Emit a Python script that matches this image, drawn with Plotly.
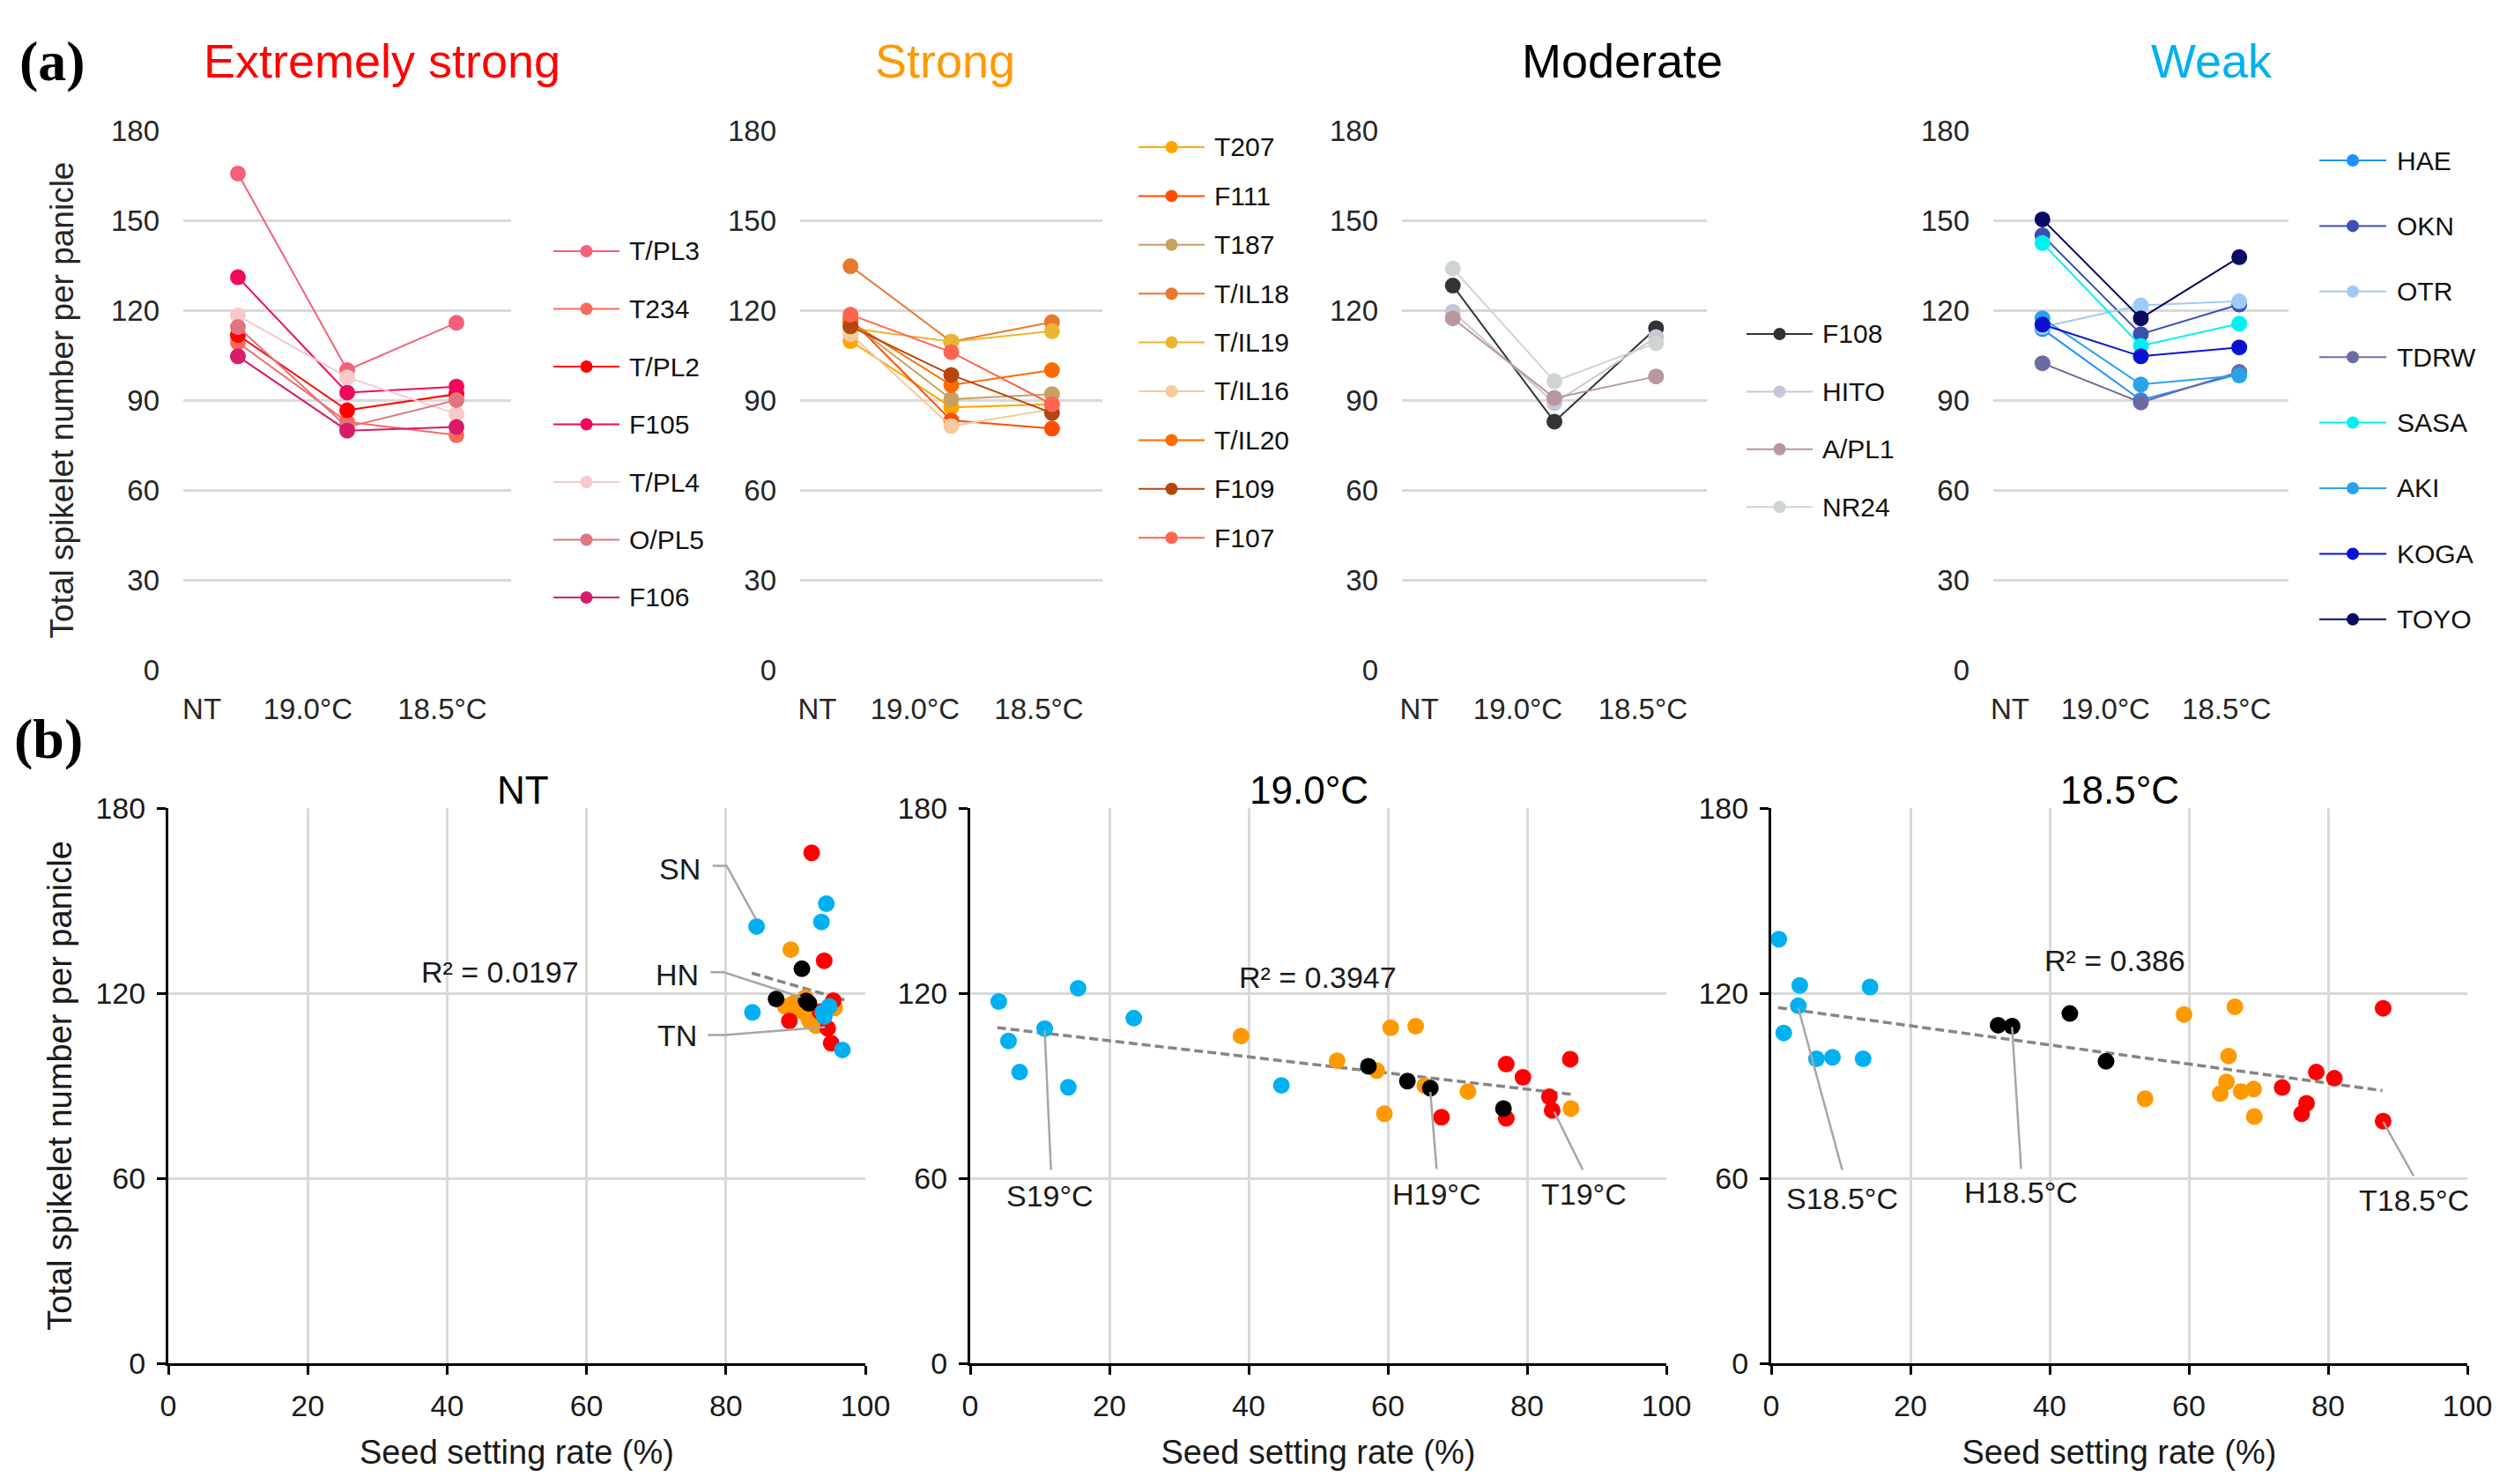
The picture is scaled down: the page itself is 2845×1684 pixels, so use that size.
import plotly.graph_objects as go

W, H = 2845, 1684          # browser window
PAD = 8                    # default body margin of the page
FONT = "Liberation Sans, Arial, sans-serif"

conditions = ["NT", "19.0°C", "18.5°C"]

# (a) total spikelet number per panicle at NT / 19.0°C / 18.5°C
ext_names = ["T/PL3", "T234", "T/PL2", "F105", "T/PL4", "O/PL5", "F106"]
ext_values = [
    [165.6, 100.0, 115.8],
    [109.2, 82.7, 78.3],
    [111.7, 86.6, 92.0],
    [131.0, 92.5, 94.5],
    [118.2, 97.6, 85.4],
    [114.4, 81.0, 90.0],
    [104.6, 79.8, 81.0],
]
str_names = ["T207", "F111", "T187", "T/IL18", "T/IL19", "T/IL16", "T/IL20", "F109", "F107"]
str_values = [
    [109.7, 87.6, 88.6],
    [117.0, 83.2, 80.5],
    [116.0, 90.3, 92.0],
    [134.7, 109.5, 116.0],
    [114.0, 109.5, 113.0],
    [112.0, 81.3, 87.0],
    [116.0, 95.0, 100.0],
    [114.6, 98.4, 85.7],
    [118.5, 106.0, 88.6],
]
mod_names = ["F108", "HITO", "A/PL1", "NR24"]
mod_values = [
    [128.2, 82.8, 114.0],
    [119.5, 89.0, 111.0],
    [117.3, 90.7, 97.9],
    [133.9, 96.3, 109.0],
]
weak_names = ["HAE", "OKN", "OTR", "TDRW", "SASA", "AKI", "KOGA", "TOYO"]
weak_values = [
    [113.7, 90.0, 98.7],
    [145.0, 112.0, 121.9],
    [114.4, 121.6, 123.0],
    [102.3, 89.2, 99.4],
    [142.4, 108.1, 115.5],
    [117.3, 95.2, 98.2],
    [115.2, 104.6, 107.6],
    [150.3, 117.3, 137.7],
]

# (b) seed setting rate (%) vs total spikelet number, per group
nt_red_x = [92.3, 94.1, 95.4, 89.1, 94.6, 95.1, 93.5]
nt_red_y = [165.5, 130.5, 117.6, 111.0, 108.6, 103.8, 114.0]
nt_orange_x = [89.3, 91.4, 88.5, 89.7, 91.6, 92.0, 92.9, 95.6, 90.5]
nt_orange_y = [134.1, 118.6, 115.7, 116.7, 112.9, 111.0, 109.5, 115.2, 114.5]
nt_black_x = [90.9, 87.2, 91.9, 91.5]
nt_black_y = [127.9, 118.1, 116.7, 117.5]
nt_blue_x = [94.4, 93.7, 84.4, 83.8, 93.9, 94.8, 94.1, 96.7]
nt_blue_y = [149.0, 143.1, 141.6, 113.8, 113.8, 115.7, 112.4, 101.6]
nt_trend_x = [83.7, 97.0]
nt_trend_y = [126.5, 117.8]

t19_red_x = [77.0, 86.2, 79.4, 83.2, 83.6, 77.0, 67.7]
t19_red_y = [97.0, 98.6, 92.7, 86.4, 82.0, 79.4, 79.8]
t19_orange_x = [38.9, 60.4, 64.0, 52.7, 58.4, 65.3, 71.5, 59.5, 86.3]
t19_orange_y = [106.1, 108.8, 109.3, 98.1, 94.9, 90.0, 88.1, 80.9, 82.6]
t19_black_x = [57.2, 62.8, 66.1, 76.6]
t19_black_y = [96.3, 91.5, 89.2, 82.6]
t19_blue_x = [4.1, 15.5, 23.5, 10.7, 5.5, 7.1, 14.1, 44.7]
t19_blue_y = [117.3, 121.6, 111.9, 108.5, 104.5, 94.4, 89.5, 90.1]
t19_trend_x = [3.9, 86.7]
t19_trend_y = [108.8, 87.1]

t185_red_x = [87.9, 78.3, 80.9, 73.4, 76.9, 76.2, 87.9]
t185_red_y = [115.1, 94.4, 92.4, 89.4, 84.3, 80.9, 78.5]
t185_orange_x = [59.3, 66.6, 65.7, 65.4, 64.5, 67.5, 69.3, 53.7, 69.4]
t185_orange_y = [113.1, 115.6, 99.6, 91.2, 87.4, 88.1, 88.9, 85.8, 80.0]
t185_black_x = [32.6, 34.6, 42.9, 48.1]
t185_black_y = [109.6, 109.3, 113.4, 97.9]
t185_blue_x = [1.1, 4.1, 14.2, 3.9, 1.8, 6.5, 8.8, 13.2]
t185_blue_y = [137.5, 122.5, 122.0, 115.9, 107.1, 98.7, 99.2, 98.7]
t185_trend_x = [1.0, 87.8]
t185_trend_y = [115.3, 88.4]

r2_labels = ["R² = 0.0197", "R² = 0.3947", "R² = 0.386"]

# colours
ext_colors = ["#F4607A", "#F86A5E", "#FF0000", "#F2075C", "#F9C8C8", "#E07480", "#D81B6A"]
str_colors = ["#FFA500", "#FF4D00", "#C9A063", "#E8792A", "#EBB532", "#F5CA9E", "#FF6A00", "#B5460F", "#FF6452"]
mod_colors = ["#333333", "#C9C5D9", "#B8979F", "#CDD5D3"]
weak_colors = ["#1E8FFF", "#3A50B2", "#9FCBF8", "#6B6BA3", "#00F0F0", "#2AA2EA", "#0A12D2", "#0B0B62"]
grp_colors = {"orange": "#FF9900", "red": "#FF0000", "black": "#000000", "blue": "#00B0F0"}

FW, FH = W - 2 * PAD, H - 2 * PAD


def fx(p):
    # window pixel -> paper fraction
    return (p - PAD) / FW


def fy(p):
    return 1 - (p - PAD) / FH


fig = go.Figure()
shapes = []
annotations = []

# ---------- (a) line panels ----------
top_panels = [
    # names, values, colors, x-domain px, title, title colour, title x, legend (line x0, x1, text x, row y0, step)
    (ext_names, ext_values, ext_colors, (208, 580), "Extremely strong", "#FF0000", 433, (628, 703, 712, 285, 65.5)),
    (str_names, str_values, str_colors, (908, 1251), "Strong", "#FF9900", 1072, (1292, 1367, 1376, 167, 55.4)),
    (mod_names, mod_values, mod_colors, (1591, 1937), "Moderate", "#000000", 1841, (1982, 2057, 2066, 379, 65.4)),
    (weak_names, weak_values, weak_colors, (2262, 2597), "Weak", "#00B0F0", 2510, (2632, 2708, 2718, 182, 74.4)),
]
top_y = (148, 760)
cat_pos = list(range(len(conditions)))
label_pos = [-0.33, 0.64, 1.87]   # Excel put the category labels a bit off-centre

for i, (names, values, colors, xd, title, tcol, tx, leg) in enumerate(top_panels):
    n = i + 1
    xa, ya = "x%d" % n, "y%d" % n
    for name, vals, col in zip(names, values, colors):
        fig.add_trace(go.Scatter(
            x=cat_pos, y=vals, mode="lines+markers", name=name,
            xaxis=xa, yaxis=ya, showlegend=False,
            line=dict(color=col, width=2),
            marker=dict(color=col, size=18),
        ))
    fig.update_layout(**{
        "xaxis%d" % n: dict(
            domain=[fx(xd[0]), fx(xd[1])], anchor=ya, automargin=False,
            range=[-0.5, 2.5], showgrid=False, showline=False, zeroline=False,
            tickmode="array", tickvals=label_pos, ticktext=conditions,
            ticks="", tickfont=dict(size=33, color="#262626"), ticklabelstandoff=22,
        ),
        "yaxis%d" % n: dict(
            domain=[fy(top_y[1]), fy(top_y[0])], anchor=xa, automargin=False,
            range=[0, 180], tickmode="linear", tick0=0, dtick=30,
            showgrid=True, gridcolor="#D9D9D9", gridwidth=3,
            showline=False, zeroline=False, ticks="",
            tickfont=dict(size=33, color="#262626"), ticklabelstandoff=26,
            title=dict(text="Total spikelet number per panicle" if n == 1 else "",
                       font=dict(size=37, color="#262626"), standoff=30),
        ),
    })
    annotations.append(dict(
        text=title, x=fx(tx), y=fy(69), xref="paper", yref="paper",
        showarrow=False, font=dict(size=54, color=tcol), xanchor="center", yanchor="middle",
    ))
    lx0, lx1, ltx, ly0, lstep = leg
    for k, (name, col) in enumerate(zip(names, colors)):
        yy = fy(ly0 + k * lstep)
        shapes.append(dict(type="line", xref="paper", yref="paper",
                           x0=fx(lx0), x1=fx(lx1), y0=yy, y1=yy,
                           line=dict(color=col, width=2)))
        shapes.append(dict(type="circle", xref="paper", yref="paper",
                           xsizemode="pixel", ysizemode="pixel",
                           xanchor=fx((lx0 + lx1) / 2), yanchor=yy,
                           x0=-7, x1=7, y0=-7, y1=7,
                           fillcolor=col, line=dict(color=col, width=0)))
        annotations.append(dict(
            text=name, x=fx(ltx), y=yy, xref="paper", yref="paper",
            showarrow=False, xanchor="left", yanchor="middle",
            font=dict(size=30, color="#111111"),
        ))

# ---------- (b) scatter panels ----------
bottom_panels = [
    ("NT", (191, 982), 593,
     [(nt_orange_x, nt_orange_y, "orange"), (nt_red_x, nt_red_y, "red"),
      (nt_black_x, nt_black_y, "black"), (nt_blue_x, nt_blue_y, "blue")],
     (nt_trend_x, nt_trend_y), (47.6, 127.0)),
    ("19.0°C", (1101, 1891), 1486,
     [(t19_orange_x, t19_orange_y, "orange"), (t19_red_x, t19_red_y, "red"),
      (t19_black_x, t19_black_y, "black"), (t19_blue_x, t19_blue_y, "blue")],
     (t19_trend_x, t19_trend_y), (49.9, 125.2)),
    ("18.5°C", (2010, 2800), 2405,
     [(t185_orange_x, t185_orange_y, "orange"), (t185_red_x, t185_red_y, "red"),
      (t185_black_x, t185_black_y, "black"), (t185_blue_x, t185_blue_y, "blue")],
     (t185_trend_x, t185_trend_y), (49.4, 130.5)),
]
bot_y = (917, 1547)

# leader lines and labels: (text, text x, text y, path points)
callouts = [
    [("SN", 73.4, 160.4, [(78.1, 161.3), (80.1, 161.3), (84.3, 144.0)]),
     ("HN", 73.0, 126.0, [(77.8, 126.8), (79.7, 126.8), (90.7, 118.7)]),
     ("TN", 73.0, 106.4, [(77.4, 106.4), (79.8, 106.4), (94.2, 109.0)])],
    [("S19°C", 11.4, 54.2, [(10.7, 108.0), (11.6, 62.7)]),
     ("H19°C", 67.0, 55.0, [(66.1, 88.0), (67.0, 63.0)]),
     ("T19°C", 88.2, 55.0, [(83.9, 81.5), (88.0, 62.7)])],
    [("S18.5°C", 10.2, 53.5, [(3.9, 115.1), (10.2, 62.7)]),
     ("H18.5°C", 35.9, 55.3, [(34.6, 109.0), (35.9, 63.0)]),
     ("T18.5°C", 92.3, 53.0, [(87.9, 78.3), (92.3, 60.7)])],
]

for j, (title, xd, tx, groups, trend, r2pos) in enumerate(bottom_panels):
    n = j + 5
    xa, ya = "x%d" % n, "y%d" % n
    fig.add_trace(go.Scatter(
        x=trend[0], y=trend[1], mode="lines", xaxis=xa, yaxis=ya, showlegend=False,
        line=dict(color="#858585", width=3.5, dash="10px,5px"),
    ))
    for gx, gy, gname in groups:
        fig.add_trace(go.Scatter(
            x=gx, y=gy, mode="markers", xaxis=xa, yaxis=ya, showlegend=False,
            marker=dict(color=grp_colors[gname], size=19),
        ))
    fig.update_layout(**{
        "xaxis%d" % n: dict(
            domain=[fx(xd[0]), fx(xd[1])], anchor=ya, automargin=False, range=[0, 100],
            tickmode="linear", tick0=0, dtick=20,
            showgrid=True, gridcolor="#D9D9D9", gridwidth=2.5, zeroline=False,
            showline=True, linecolor="#000000", linewidth=3,
            ticks="outside", ticklen=10, tickwidth=3, tickcolor="#000000",
            tickfont=dict(size=34, color="#1a1a1a"), ticklabelstandoff=6,
            title=dict(text="Seed setting rate (%)", font=dict(size=38, color="#1a1a1a"), standoff=22),
        ),
        "yaxis%d" % n: dict(
            domain=[fy(bot_y[1]), fy(bot_y[0])], anchor=xa, automargin=False, range=[0, 180],
            tickmode="linear", tick0=0, dtick=60,
            showgrid=True, gridcolor="#D9D9D9", gridwidth=2.5, zeroline=False,
            showline=True, linecolor="#000000", linewidth=3,
            ticks="outside", ticklen=10, tickwidth=3, tickcolor="#000000",
            tickfont=dict(size=34, color="#1a1a1a"), ticklabelstandoff=6,
            title=dict(text="Total spikelet number per panicle" if n == 5 else "",
                       font=dict(size=38, color="#1a1a1a"), standoff=16),
        ),
    })
    annotations.append(dict(
        text=title, x=fx(tx), y=fy(896), xref="paper", yref="paper",
        showarrow=False, font=dict(size=44, color="#000000"), xanchor="center", yanchor="middle",
    ))
    annotations.append(dict(
        text=r2_labels[j], x=r2pos[0], y=r2pos[1], xref=xa, yref=ya,
        showarrow=False, font=dict(size=34, color="#1a1a1a"), xanchor="center", yanchor="middle",
    ))
    for label, lxx, lyy, pts in callouts[j]:
        path = "M " + " L ".join("%g,%g" % p for p in pts)
        shapes.append(dict(type="path", xref=xa, yref=ya, path=path,
                           line=dict(color="#A6A6A6", width=2.5)))
        annotations.append(dict(
            text=label, x=lxx, y=lyy, xref=xa, yref=ya, showarrow=False,
            font=dict(size=34, color="#1a1a1a"), xanchor="center", yanchor="middle",
        ))

# panel letters
for letter, lx, ly in [("(a)", 59, 70), ("(b)", 55, 838)]:
    annotations.append(dict(
        text="<b>%s</b>" % letter, x=fx(lx), y=fy(ly), xref="paper", yref="paper",
        showarrow=False, xanchor="center", yanchor="middle",
        font=dict(size=64, family="Liberation Serif, Times New Roman, serif", color="#000000"),
    ))

fig.update_layout(
    width=FW, height=FH,
    margin=dict(l=0, r=0, t=0, b=0, pad=0),
    paper_bgcolor="#FFFFFF", plot_bgcolor="#FFFFFF",
    font=dict(family=FONT, color="#1a1a1a"),
    showlegend=False,
    shapes=shapes,
    annotations=annotations,
)

fig.write_html("out.html")
